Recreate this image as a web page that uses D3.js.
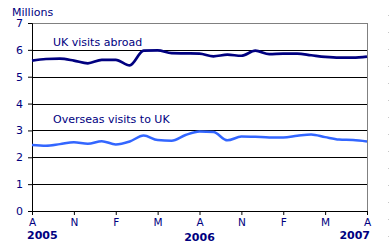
<!DOCTYPE html>
<html>
<head>
<meta charset="utf-8">
<script src="https://cdn.jsdelivr.net/npm/d3@7"></script>
<style>
  body { margin: 0; background: #fff; }
  svg { display: block; font-family: "DejaVu Sans", Verdana, sans-serif; }
</style>
</head>
<body>
<svg></svg>
<script>
// months Aug 2005 .. Aug 2007 (index 0..24)
const months = d3.range(25)
const ukAbroad = [5.60, 5.66, 5.67, 5.60, 5.50, 5.63, 5.63, 5.42, 5.97, 5.98, 5.88, 5.87, 5.86,
                  5.76, 5.82, 5.78, 5.97, 5.84, 5.86, 5.86, 5.80, 5.74, 5.71, 5.71, 5.75]
const overseas = [2.46, 2.43, 2.49, 2.56, 2.50, 2.60, 2.48, 2.59, 2.81, 2.64, 2.62, 2.83, 2.96,
                  2.94, 2.63, 2.77, 2.76, 2.74, 2.74, 2.80, 2.85, 2.75, 2.66, 2.64, 2.59]
const monthTicks = [0, 3, 6, 9, 12, 15, 18, 21, 24]
const monthLabels = ["A", "N", "F", "M", "A", "N", "F", "M", "A"]
const yearTicks = [0, 12, 24]
const yearLabels = ["2005", "2006", "2007"]
const yTicks = [0, 1, 2, 3, 4, 5, 6, 7]

const width = 389, height = 251
const margin = {top: 23, right: 22, bottom: 40, left: 32}
const innerWidth = width - margin.left - margin.right
const innerHeight = height - margin.top - margin.bottom
const navy = "#000080"

const svg = d3.select("svg").attr("width", width).attr("height", height)
const g = svg.append("g").attr("transform", `translate(${margin.left},${margin.top})`)

const xScale = d3.scaleLinear().domain([0, 24]).range([0, innerWidth])
const yScale = d3.scaleLinear().domain([0, 7]).range([innerHeight, 0])

// gridlines
g.append("g").selectAll("line").data(yTicks.filter(d => d > 0 && d < 7))
  .enter().append("line")
  .attr("x1", 0).attr("x2", innerWidth)
  .attr("y1", d => Math.round(yScale(d)) + 0.5).attr("y2", d => Math.round(yScale(d)) + 0.5)
  .attr("stroke", "#000").attr("stroke-width", 1)

// top + right border (grey)
g.append("line").attr("x1", 0).attr("x2", innerWidth)
  .attr("y1", 0.5).attr("y2", 0.5).attr("stroke", "#808080")
g.append("line").attr("x1", innerWidth + 0.5).attr("x2", innerWidth + 0.5)
  .attr("y1", 0).attr("y2", innerHeight).attr("stroke", "#808080")

// y axis
const yAxis = d3.axisLeft(yScale).tickValues(yTicks).tickFormat(d3.format("d"))
  .tickSize(4).tickPadding(5)
const yAxisG = g.append("g").call(yAxis)
yAxisG.select(".domain").attr("stroke", "#000")
yAxisG.selectAll(".tick line").attr("stroke", "#000")
yAxisG.selectAll("text").attr("fill", navy).attr("font-size", "11px")
  .attr("font-family", "DejaVu Sans, sans-serif")

// x axis
const xAxis = d3.axisBottom(xScale).tickValues(monthTicks)
  .tickFormat((d, i) => monthLabels[i]).tickSize(4).tickPadding(4).tickSizeOuter(0)
const xAxisG = g.append("g").attr("transform", `translate(0,${innerHeight})`).call(xAxis)
xAxisG.select(".domain").attr("stroke", "#000")
xAxisG.selectAll(".tick line").attr("stroke", "#000")
xAxisG.selectAll("text").attr("fill", navy).attr("font-size", "10.5px")
  .attr("font-family", "DejaVu Sans, sans-serif")

// year labels
const yearAnchor = ["start", "middle", "end"]
const yearShift = [-5, 0, 3]
g.append("g").selectAll("text").data(yearTicks)
  .enter().append("text")
  .attr("x", (d, i) => xScale(d) + yearShift[i])
  .attr("y", (d, i) => innerHeight + (i === 1 ? 30 : 28))
  .attr("text-anchor", (d, i) => yearAnchor[i])
  .attr("fill", navy).attr("font-size", "11px").attr("font-weight", "bold")
  .text((d, i) => yearLabels[i])

svg.append("text").attr("x", 12).attr("y", 16)
  .attr("fill", navy).attr("font-size", "11px").text("Millions")

// lines
const line = d3.line()
  .x((d, i) => xScale(months[i]))
  .y(d => yScale(d))
  .curve(d3.curveMonotoneX)

g.append("path").datum(overseas)
  .attr("fill", "none").attr("stroke", "#3366ff").attr("stroke-width", 2.5)
  .attr("d", line)
g.append("path").datum(ukAbroad)
  .attr("fill", "none").attr("stroke", navy).attr("stroke-width", 2.7)
  .attr("d", line)

// series labels
g.append("text").attr("x", 21).attr("y", yScale(6) - 4)
  .attr("fill", navy).attr("font-size", "11px").text("UK visits abroad")
g.append("text").attr("x", 21).attr("y", yScale(3) - 7)
  .attr("fill", navy).attr("font-size", "11px").text("Overseas visits to UK")

// dotted edge on the right
svg.append("g").selectAll("rect").data(d3.range(15, 252, 17))
  .enter().append("rect")
  .attr("x", 388).attr("y", d => d).attr("width", 1).attr("height", 1)
  .attr("fill", "#c8c8c8")
</script>
</body>
</html>
